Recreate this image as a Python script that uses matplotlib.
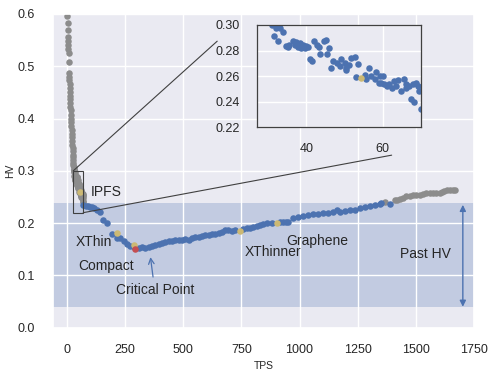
import matplotlib
matplotlib.use("Agg")
import matplotlib.pyplot as plt
from matplotlib.patches import Rectangle
import seaborn as sns

sns.set_theme(style="darkgrid")
plt.rcParams['font.family'] = ['Liberation Sans', 'DejaVu Sans']

# ---- data ----
head_tps = [2, 3, 4, 5, 5, 6, 6, 7, 7, 9, 10, 10, 11, 12, 12, 13, 14, 15, 15, 16,
            17, 18, 18, 19, 20, 21, 22, 22, 23, 24, 25, 26, 26, 27, 28, 28, 29, 30, 30, 31]
head_hv = [0.596, 0.583, 0.569, 0.556, 0.548, 0.540, 0.533, 0.525, 0.509, 0.488,
           0.480, 0.474, 0.466, 0.459, 0.451, 0.444, 0.437, 0.430, 0.423, 0.416,
           0.407, 0.400, 0.393, 0.386, 0.378, 0.371, 0.364, 0.357, 0.350, 0.343,
           0.337, 0.331, 0.326, 0.320, 0.315, 0.311, 0.307, 0.304, 0.302, 0.300]

zoom_tps = [32.0, 33.1, 33.8, 31.5, 32.6, 34.8, 35.5, 36.4, 37.4, 38.3, 39.2, 40.0,
            38.7, 37.9, 37.0, 35.3, 39.6, 40.5, 42.0, 42.7, 44.6, 45.1, 43.35, 46.0,
            45.4, 43.7, 41.1, 41.4, 46.6, 47.0, 48.1, 49.2, 48.75, 50.05, 50.5, 51.2,
            51.8, 52.7, 53.5, 50.5, 53.1, 55.3, 56.4, 55.7, 57.0, 58.3, 57.9, 59.2,
            60.1, 59.0, 59.6, 60.5, 61.1, 61.8, 62.5, 63.1, 64.0, 63.6, 64.85, 65.5,
            66.15, 66.85, 67.9, 68.8, 69.2, 69.5, 67.5, 68.3, 66.15]
zoom_hv = [0.298, 0.298, 0.2943, 0.2910, 0.2876, 0.2832, 0.2845, 0.2876, 0.2866, 0.2858,
           0.2845, 0.2832, 0.2819, 0.2824, 0.2840, 0.2824, 0.2819, 0.2827, 0.2876, 0.2845,
           0.2876, 0.2884, 0.2824, 0.2819, 0.2773, 0.2773, 0.2736, 0.2721, 0.2664, 0.2716,
           0.2703, 0.2736, 0.2677, 0.2703, 0.2664, 0.2690, 0.2742, 0.2747, 0.2695, 0.2651,
           0.2592, 0.2612, 0.2664, 0.2574, 0.2600, 0.2633, 0.2581, 0.2600, 0.2600, 0.2548,
           0.2548, 0.2535, 0.2522, 0.2535, 0.2509, 0.2561, 0.2566, 0.2522, 0.2483, 0.2581,
           0.2535, 0.2522, 0.2535, 0.2548, 0.2522, 0.2483, 0.2419, 0.2401, 0.2509]

mid_tps = [70, 80, 90, 101, 109, 116, 130, 144, 156, 173, 194, 216, 230, 244, 259, 273,
           287, 309, 323, 337, 352, 366, 380, 394, 409, 423, 437, 452, 466, 480, 494,
           509, 523, 537, 552, 566, 580, 594, 609, 623, 637, 652, 666, 680, 694, 709,
           723, 759, 773, 787, 802, 816, 830, 845, 859, 880, 916, 930, 940, 952, 973,
           994, 1016, 1037, 1059, 1080, 1102, 1123, 1145, 1163, 1173, 1195, 1216, 1237,
           1259, 1280, 1302, 1323, 1344, 1352, 1387]
mid_hv = [0.2346, 0.2326, 0.2327, 0.230, 0.230, 0.228, 0.225, 0.222, 0.206, 0.200,
          0.180, 0.172, 0.171, 0.166, 0.161, 0.157, 0.155, 0.153, 0.154, 0.153, 0.155,
          0.156, 0.159, 0.161, 0.162, 0.164, 0.165, 0.166, 0.167, 0.168, 0.168, 0.170,
          0.168, 0.171, 0.173, 0.174, 0.175, 0.177, 0.178, 0.179, 0.180, 0.182, 0.183,
          0.186, 0.186, 0.185, 0.187, 0.188, 0.190, 0.191, 0.193, 0.195, 0.196, 0.198,
          0.200, 0.201, 0.202, 0.203, 0.203, 0.203, 0.209, 0.212, 0.214, 0.216, 0.217,
          0.217, 0.219, 0.220, 0.222, 0.225, 0.222, 0.223, 0.225, 0.226, 0.228, 0.230,
          0.233, 0.235, 0.237, 0.238, 0.237]

tail_tps = [1366, 1409, 1420, 1430, 1445, 1459, 1473, 1487, 1502, 1516, 1530, 1545,
            1559, 1573, 1588, 1602, 1612, 1623, 1635, 1645, 1658, 1670]
tail_hv = [0.240, 0.244, 0.245, 0.247, 0.249, 0.251, 0.252, 0.254, 0.254, 0.254, 0.256,
           0.257, 0.257, 0.257, 0.258, 0.258, 0.260, 0.262, 0.263, 0.263, 0.263, 0.263]

sys_names = ["IPFS", "XThin", "Compact", "XThinner", "Graphene"]
sys_tps = [54.4, 216, 287, 744, 904]
sys_hv = [0.2586, 0.182, 0.159, 0.185, 0.200]
label_tps = [101, 37, 50, 766, 942]
label_hv = [0.259, 0.164, 0.118, 0.145, 0.166]

crit_tps = [294]
crit_hv = [0.150]

past_hv_range = [0.04, 0.238]

BLUE = '#4c72b0'
GREY = '#8c8c8c'
YELLOW = '#ccb974'
RED = '#c44e52'
TXT = '#262626'
S = 22

fig = plt.figure(figsize=(4.98, 3.74), dpi=100)
ax = fig.add_axes([0.1064, 0.1238, 0.8454, 0.8388])

ax.axhspan(past_hv_range[0], past_hv_range[1], color=BLUE, alpha=0.25, lw=0, zorder=0.5)

ax.scatter(tail_tps, tail_hv, s=S, color=GREY, lw=0, zorder=2)
ax.scatter(head_tps, head_hv, s=S, color=GREY, lw=0, zorder=2)
ax.scatter(zoom_tps, zoom_hv, s=S, color=GREY, lw=0, zorder=2)
ax.scatter(mid_tps, mid_hv, s=S, color=BLUE, lw=0, zorder=3)
ax.scatter(sys_tps, sys_hv, s=S, color=YELLOW, lw=0, zorder=4)
ax.scatter(crit_tps, crit_hv, s=S, color=RED, lw=0, zorder=5)

for name, lx, ly in zip(sys_names, label_tps, label_hv):
    ax.text(lx, ly, name, fontsize=10, color=TXT, va='center', ha='left', zorder=6)

ax.annotate('Critical Point', xy=(359, 0.135), xytext=(209, 0.072), fontsize=10,
            color=TXT, va='center', ha='left',
            arrowprops=dict(arrowstyle='->', color=BLUE, lw=0.9, shrinkA=2, shrinkB=0))

ax.text(1430, 0.140, 'Past HV', fontsize=10, color=TXT, va='center', ha='left')
ax.annotate('', xy=(1702, past_hv_range[0]), xytext=(1702, past_hv_range[1] - 0.003),
            arrowprops=dict(arrowstyle='<|-|>', color=BLUE, lw=1.0,
                            mutation_scale=9, shrinkA=0, shrinkB=0))

ax.set_xlim(-60, 1750)
ax.set_ylim(0, 0.6)
ax.set_xticks([0, 250, 500, 750, 1000, 1250, 1500, 1750])
ax.set_yticks([0.0, 0.1, 0.2, 0.3, 0.4, 0.5, 0.6])
ax.tick_params(axis='both', labelsize=9, labelcolor=TXT)
ax.tick_params(axis='x', pad=6)
ax.tick_params(axis='y', pad=7)
ax.set_xlabel('TPS', fontsize=7.5, color=TXT, labelpad=3)
ax.set_ylabel('HV', fontsize=7.5, color=TXT, labelpad=2)

# zoom rectangle + connectors
zx0, zx1, zy0, zy1 = 27, 70, 0.22, 0.30
ax.add_patch(Rectangle((zx0, zy0), zx1 - zx0, zy1 - zy0, fill=False,
                       edgecolor='#404040', lw=0.8, zorder=6))
ax.plot([zx0, 646], [zy1, 0.548], color='#404040', lw=0.8, zorder=6)
ax.plot([zx1, 1396], [zy0, 0.330], color='#404040', lw=0.8, zorder=6)

# inset
axi = fig.add_axes([0.5155, 0.6596, 0.3293, 0.2736])
axi.scatter(head_tps, head_hv, s=S, color=BLUE, lw=0)
axi.scatter(zoom_tps, zoom_hv, s=S, color=BLUE, lw=0)
axi.scatter(mid_tps, mid_hv, s=S, color=BLUE, lw=0)
axi.scatter(sys_tps[:1], sys_hv[:1], s=S, color=YELLOW, lw=0, zorder=4)
axi.set_xlim(zx0, zx1)
axi.set_ylim(zy0, zy1)
axi.set_xticks([40, 60])
axi.set_yticks([0.22, 0.24, 0.26, 0.28, 0.30])
axi.set_yticklabels(['0.22', '0.24', '0.26', '0.28', '0.30'])
axi.tick_params(axis='both', labelsize=9, labelcolor=TXT)
axi.tick_params(axis='x', pad=5)
axi.tick_params(axis='y', pad=6)
for sp in axi.spines.values():
    sp.set_visible(True)
    sp.set_color('#404040')
    sp.set_linewidth(0.9)

fig.savefig('out.png', dpi=100)
